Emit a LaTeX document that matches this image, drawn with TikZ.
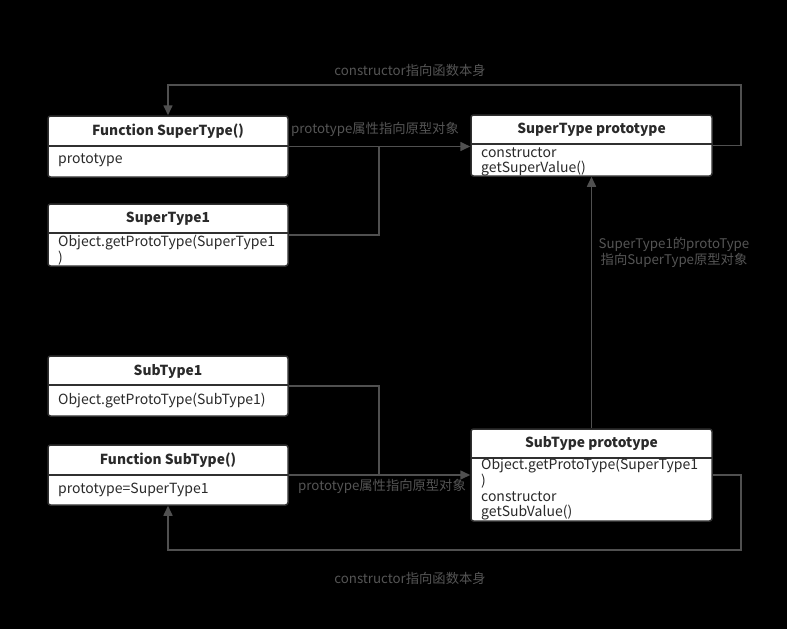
\documentclass[tikz,border=0pt]{standalone}
\usepackage{fontspec}
\setmainfont{Noto Sans CJK SC}
\usetikzlibrary{arrows.meta}
\definecolor{linegray}{HTML}{505050}
\definecolor{labgray}{HTML}{555555}
\definecolor{boxline}{HTML}{303030}
\definecolor{txt}{HTML}{2A2A2A}
\begin{document}
\begin{tikzpicture}[x=1pt,y=-1pt,
  cls/.style={draw=boxline, line width=1.5pt, fill=white, rounded corners=2.5pt, inner sep=0pt, minimum width=240pt},
  hdr/.style={font=\fontsize{13.8}{15}\selectfont\bfseries, text=txt, inner sep=0pt},
  bdy/.style={font=\fontsize{14}{15}\selectfont, text=txt, anchor=west, inner sep=0pt},
  divl/.style={draw=boxline, line width=1.8pt},
  conn/.style={draw=linegray, line width=1.6pt},
  arr/.style={conn, -{Triangle[length=10pt,width=9pt]}},
  lab/.style={text=labgray, font=\fontsize{13.3}{14}\selectfont, inner sep=0pt}]
\fill[black] (0,0) rectangle (787,629);
\useasboundingbox (0,0) rectangle (787,629);

% boxes
\node[cls, minimum height=61pt] (fst) at (168,146.5) {};
\node[cls, minimum width=241pt, minimum height=61pt] (spp) at (591.5,145.5) {};
\node[cls, minimum height=62pt] (st1) at (168,235) {};
\node[cls, minimum height=60pt] (sub1) at (168,386) {};
\node[cls, minimum height=60pt] (fsub) at (168,475) {};
\node[cls, minimum width=241pt, minimum height=92pt] (subp) at (591.5,475) {};

% dividers
\draw[divl] (48,146) -- (288,146);
\draw[divl] (471,144) -- (712,144);
\draw[divl] (48,233) -- (288,233);
\draw[divl] (48,385) -- (288,385);
\draw[divl] (48,475) -- (288,475);
\draw[divl] (471,458) -- (712,458);

% headers
\node[hdr] (h1) at (168,131) {Function SuperType()};
\node[hdr] (h2) at (591.5,130) {SuperType prototype};
\node[hdr] (h3) at (168,218.5) {SuperType1};
\node[hdr] (h4) at (168,371) {SubType1};
\node[hdr] (h5) at (168,460.5) {Function SubType()};
\node[hdr] (h6) at (591.5,443.5) {SubType prototype};

% bodies
\node[bdy] (b1) at (58,160.5) {prototype};
\node[bdy] (b2a) at (481,153) {constructor};
\node[bdy] (b2b) at (481,169) {getSuperValue()};
\node[bdy] (b3a) at (58,243) {Object.getProtoType(SuperType1};
\node[bdy] (b3b) at (58,258) {)};
\node[bdy] (b4) at (58,401) {Object.getProtoType(SubType1)};
\node[bdy] (b5) at (58,490) {prototype=SuperType1};
\node[bdy] (b6a) at (481,466) {Object.getProtoType(SuperType1};
\node[bdy] (b6b) at (481,481) {)};
\node[bdy] (b6c) at (481,497) {constructor};
\node[bdy] (b6d) at (481,513) {getSubValue()};

% connector waypoints
\coordinate (j1) at (379,146);
\coordinate (j2) at (379,475);
\coordinate (ra) at (741,85);
\coordinate (rb) at (741,550);

% connectors
\draw[arr] (fst.east) -- (fst.east -| spp.west);
\draw[conn] (st1.east) -| (j1);
\draw[conn] (sub1.east) -| (j2);
\draw[arr] (fsub.east) -- (fsub.east -| subp.west);
\draw[arr] (subp.north) -- (spp.south);
\draw[arr] (spp.east) -| (ra) -| (fst.north);
\draw[arr] (subp.east) -| (rb) -| (fsub.south);

% labels
\node[lab] (l1) at (410,70) {constructor指向函数本身};
\node[lab] (l2) at (375,129) {prototype属性指向原型对象};
\node[lab] (l3) at (674,244) {SuperType1的protoType};
\node[lab] (l4) at (674,260) {指向SuperType原型对象};
\node[lab] (l5) at (382,486) {prototype属性指向原型对象};
\node[lab] (l6) at (410,578) {constructor指向函数本身};
\end{tikzpicture}
\end{document}
